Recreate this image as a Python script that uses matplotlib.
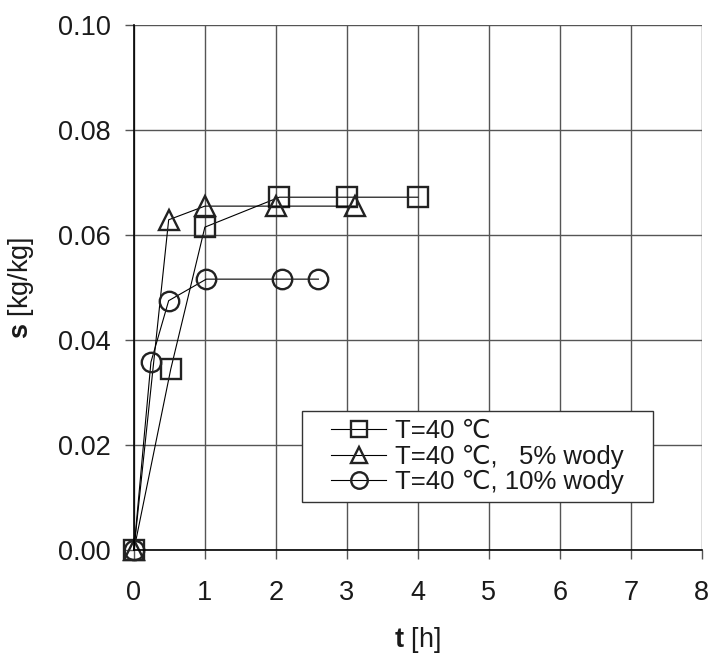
import matplotlib
matplotlib.use("Agg")
import matplotlib.pyplot as plt
from matplotlib.patches import Rectangle

plt.rcParams['font.family'] = ['Liberation Sans', 'DejaVu Sans']
plt.rcParams['mathtext.fontset'] = 'custom'
plt.rcParams['mathtext.rm'] = 'Liberation Sans'
plt.rcParams['mathtext.bf'] = 'Liberation Sans:bold'

# data
t_plain = [0, 0.52, 1.0, 2.05, 3.0, 4.0]
s_plain = [0, 0.0345, 0.0615, 0.0672, 0.0672, 0.0672]

t_5 = [0, 0.49, 1.0, 2.0, 3.12]
s_5 = [0, 0.0629, 0.0655, 0.0655, 0.0655]

t_10 = [0, 0.24, 0.49, 1.02, 2.08, 2.6]
s_10 = [0, 0.0358, 0.0475, 0.0516, 0.0516, 0.0516]

labels = ["T=40 \u2103", "T=40 \u2103,   5% wody", "T=40 \u2103, 10% wody"]
xticks = [0, 1, 2, 3, 4, 5, 6, 7, 8]
yticks = [0.00, 0.02, 0.04, 0.06, 0.08, 0.10]

fig = plt.figure(figsize=(7.16, 6.55), dpi=100)
ax = fig.add_axes([0.187, 0.160, 0.793, 0.802])

style = dict(color='black', lw=0.8, mfc='none', mec='#222222', mew=1.7, ms=14, clip_on=False)
ax.plot(t_plain, s_plain, marker='s', label=labels[0], **style)
ax.plot(t_5, s_5, marker='^', label=labels[1], **style)
ax.plot(t_10, s_10, marker='o', label=labels[2], **style)

ax.set_xlim(0, 8)
ax.set_ylim(0, 0.10)
ax.set_xticks(xticks)
ax.set_yticks(yticks)
ax.set_yticklabels([f"{v:.2f}" for v in yticks])
ax.grid(True, color='#555555', lw=1.0)
ax.set_axisbelow(True)
for side in ['top', 'right']:
    ax.spines[side].set_visible(False)
ax.spines['left'].set_linewidth(1.2)
ax.spines['bottom'].set_linewidth(1.2)
ax.tick_params(direction='out', length=6.5, width=1.0, color='#555555', labelsize=19.5,
               labelcolor='#1a1a1a')
ax.tick_params(axis='x', pad=15)
ax.tick_params(axis='y', pad=10)

ax.set_xlabel(r"$\mathbf{t}$ [h]", fontsize=19.5, color='#1a1a1a')
ax.set_ylabel(r"$\mathbf{s}$ [kg/kg]", fontsize=19.5, color='#1a1a1a')
ax.xaxis.set_label_coords(0.5, -0.143)
ax.yaxis.set_label_coords(-0.172, 0.5)

cx, cy = 0.605, 0.178
leg = ax.legend(loc='center', bbox_to_anchor=(cx, cy), fontsize=18.5, frameon=False,
                handlelength=2.15, handletextpad=0.35, labelspacing=0.05, borderpad=0.3,
                markerscale=0.85)
for txt in leg.get_texts():
    txt.set_color('#1a1a1a')
fw, fh = 0.618, 0.173
ax.add_patch(Rectangle((cx - fw / 2, cy - fh / 2), fw, fh, transform=ax.transAxes,
                       facecolor='white', edgecolor='#333333', lw=1.0, zorder=4.5))
leg.set_zorder(5)

fig.savefig("out.png", dpi=100)
